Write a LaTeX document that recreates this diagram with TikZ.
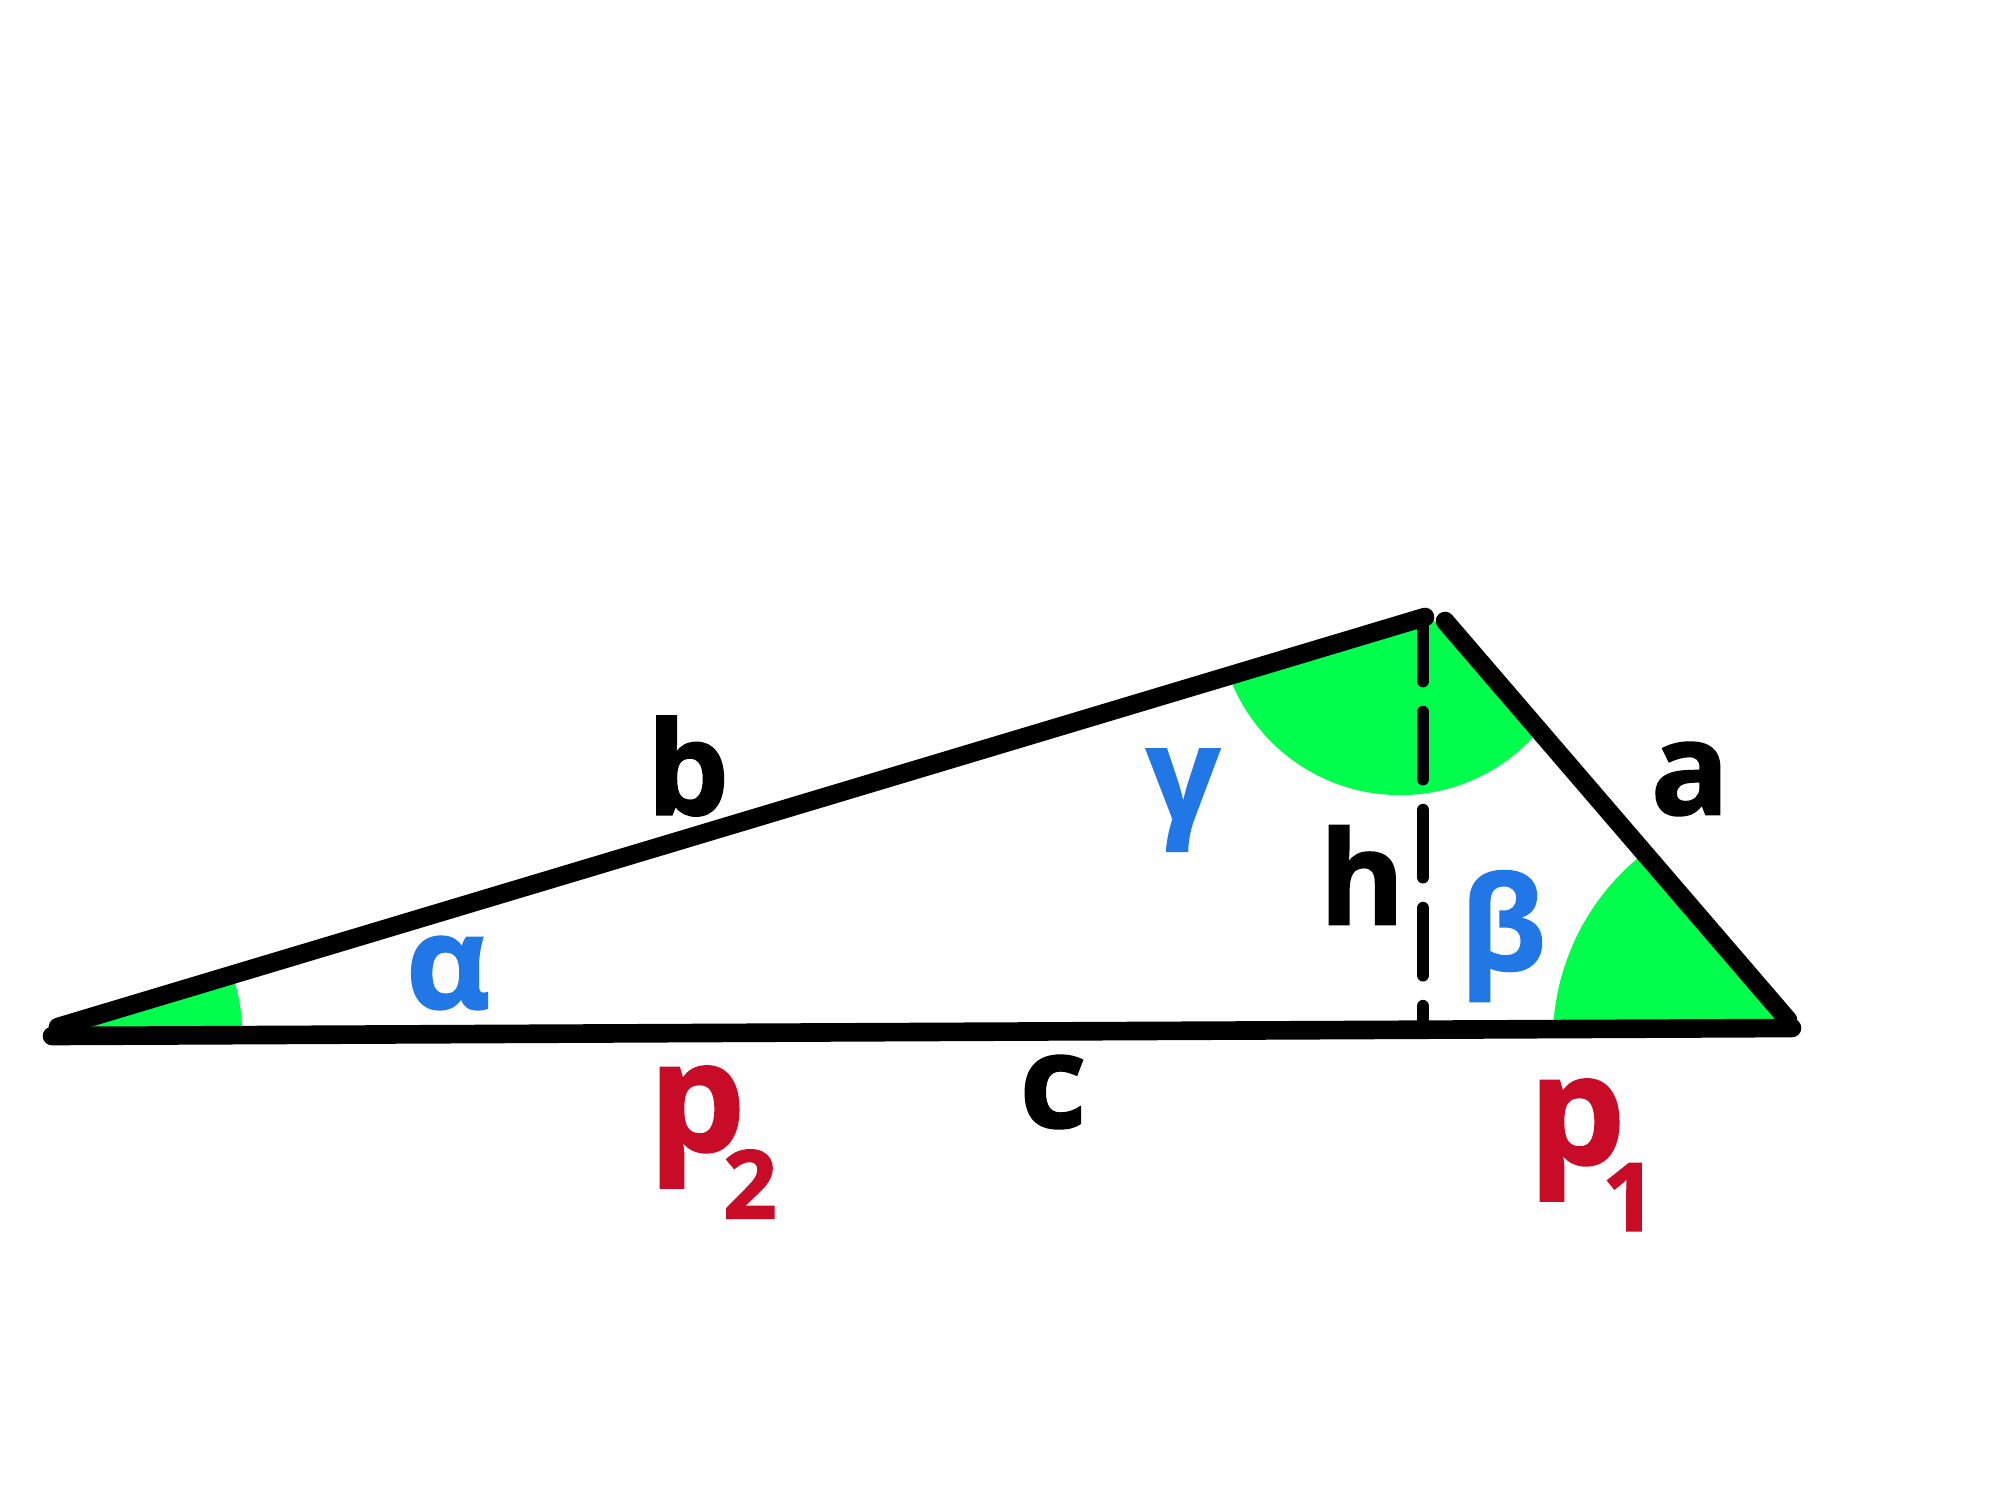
\documentclass[tikz,border=0pt]{standalone}
\usepackage{fontspec}
\setmainfont{Open Sans}[BoldFeatures={FakeBold=1.3}]
\definecolor{angfill}{RGB}{0,255,76}
\definecolor{anglbl}{RGB}{33,119,230}
\definecolor{projred}{RGB}{200,12,40}
\tikzset{
  side/.style={line width=5.3pt, line cap=round, black},
  heightline/.style={line width=3.6pt, line cap=round, black, dash pattern=on 19.06pt off 8.82pt, dash phase=1.7pt},
  lbl/.style={font=\fontsize{37}{40}\selectfont\bfseries, inner sep=0pt, black},
  greek/.style={lbl, text=anglbl},
  plbl/.style={font=\fontsize{43.5}{46}\selectfont\bfseries, inner sep=0pt, text=projred},
  sublbl/.style={font=\fontsize{27}{30}\selectfont\bfseries, inner sep=0pt, text=projred}
}
\begin{document}
\begin{tikzpicture}[x=0.01cm,y=-0.01cm]
\fill[white] (0,0) rectangle (2000,1500);
\useasboundingbox (0,0) rectangle (2000,1500);
% named points
\coordinate (bA) at (58,1027);
\coordinate (bC) at (1425,617);
\coordinate (aC) at (1445,621);
\coordinate (aB) at (1788,1020);
\coordinate (cA) at (52,1036);
\coordinate (cB) at (1792,1028);
\coordinate (hTop) at (1423,620);
\coordinate (hFoot) at (1423,1027);
% angle sectors
\begin{scope}
  \clip (56,1032) -- (1430,616) -- (1792,1026) -- cycle;
  \fill[angfill] (62,1033) circle[radius=1.80cm];
  \fill[angfill] (1400,613) circle[radius=1.82cm];
  \fill[angfill] (1790,1040) circle[radius=2.37cm];
\end{scope}
% height
\draw[heightline] (hTop) -- (hFoot);
% sides
\draw[side] (bA) -- (bC);
\draw[side] (aC) -- (aB);
\draw[side] (cA) -- (cB);
% labels
\node[lbl] (lb) at (688,766) {b};
\node[lbl] (la) at (1690,779) {a};
\node[lbl] (lc) at (1053,1092) {c};
\node[lbl] (lh) at (1362,875) {h};
\node[greek] (lalpha) at (448,973) {α};
\node[greek] (lbeta) at (1503,936) {β};
\node[greek] (lgamma) at (1183,800) {γ};
\node[plbl] (lp2) at (697,1127) {p};
\node[sublbl] (ls2) at (750,1184) {2};
\node[plbl] (lp1) at (1577,1140) {p};
\node[sublbl] (ls1) at (1629,1197) {1};
\end{tikzpicture}
\end{document}
